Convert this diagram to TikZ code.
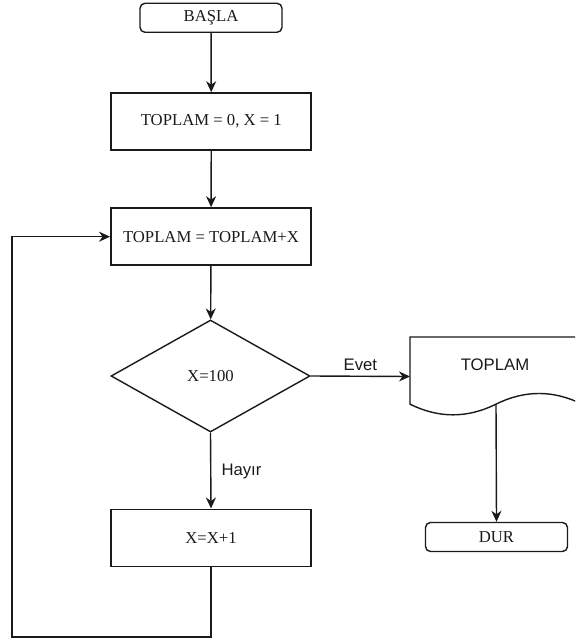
\documentclass[tikz,border=0pt]{standalone}
\usepackage{fontspec}
\setmainfont{Liberation Serif}
\newfontfamily\labelfont{Liberation Sans}
\usetikzlibrary{shapes.geometric,arrows.meta}
\definecolor{ink}{HTML}{1A1A1A}
\tikzset{
  every node/.style={font=\fontsize{16.7}{20}\selectfont, text=ink},
  line/.style={draw=ink, line width=1.4pt},
  flow/.style={line, -{Stealth[length=11pt,width=10pt,inset=3.5pt]}},
  terminal/.style={line, rectangle, rounded corners=5pt, minimum width=142pt, minimum height=29pt, inner sep=0pt},
  process/.style={line, rectangle, minimum width=200pt, minimum height=57pt, inner sep=0pt},
  boldprocess/.style={process, line width=2pt},
  decision/.style={line, diamond, minimum width=199pt, minimum height=112pt, inner sep=0pt},
  tag/.style={font=\labelfont\fontsize{16.7}{20}\selectfont},
}
\begin{document}
\begin{tikzpicture}[x=1pt,y=-1pt]
\useasboundingbox (0,0) rectangle (575,644);
\clip (0,0) rectangle (575,644);

\node[terminal] (start) at (211,17.8) {BAŞLA};
\node[boldprocess] (init) at (211.3,121.7) {TOPLAM = 0, X = 1};
\node[boldprocess] (sum) at (211,236.7) {TOPLAM = TOPLAM+X};
\node[decision] (dec) at (210.5,376) {X=100};
\node[process] (inc) at (211,537.7) {X=X+1};
\node[terminal] (stop) at (496.5,537) {DUR};

% output document with a wavy lower edge
\draw[line] (410,337) -- (582,337) -- (582,404.15)
  .. controls (553.33,389.92) and (524.67,389.92) .. (496,404.15)
  .. controls (467.33,418.38) and (438.67,418.38) .. (410,404.15) -- cycle;
\coordinate (docin) at (410,376.5);
\coordinate (docout) at (496,404.15);
\node[tag] (out) at (495,365) {TOPLAM};

% main flow
\draw[flow] (start) -- (init);
\draw[flow] (init) -- (sum);
\draw[flow] (sum) -- (dec);
\draw[flow] (dec.east) -- (docin) node[tag, midway, above=2pt] (yes) {Evet};
\draw[flow] (dec.south) -- (inc.north);
\node[tag, anchor=west] (no) at (218,471.5) {Hayır};
\draw[flow] (docout) -- (stop.north);

% loop back to the accumulator
\coordinate (lb) at (12,637);
\coordinate (lt) at (12,236.7);
\draw[flow] (inc.south) |- (lb) -- (lt) -- (sum.west);
\end{tikzpicture}
\end{document}
